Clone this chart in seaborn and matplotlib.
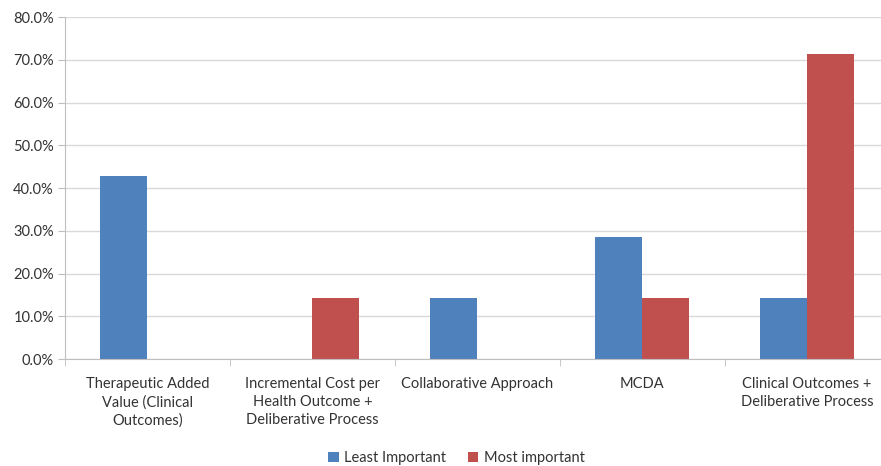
import pandas as pd
import matplotlib
matplotlib.use("Agg")
import matplotlib.pyplot as plt
import seaborn as sns
from matplotlib.ticker import PercentFormatter

# Data (percent of respondents)
categories = [
    "Therapeutic Added\nValue (Clinical\nOutcomes)",
    "Incremental Cost per\nHealth Outcome +\nDeliberative Process",
    "Collaborative Approach",
    "MCDA",
    "Clinical Outcomes +\nDeliberative Process",
]
least_important = [42.9, 0.0, 14.3, 28.6, 14.3]
most_important = [0.0, 14.3, 0.0, 14.3, 71.4]
series_names = ["Least Important", "Most important"]
colors = ["#4F81BD", "#C0504D"]

df = pd.DataFrame({
    "Category": categories * 2,
    "Value": least_important + most_important,
    "Series": [series_names[0]] * 5 + [series_names[1]] * 5,
})

sns.set_style("white")
plt.rcParams["font.family"] = ["Lato", "DejaVu Sans"]

fig = plt.figure(figsize=(8.81, 4.66), dpi=100)
ax = fig.add_axes([0.0738, 0.2296, 0.936, 0.7339])

sns.barplot(data=df, x="Category", y="Value", hue="Series", palette=colors,
            saturation=1, width=0.57, gap=0, linewidth=0, ax=ax)

ax.set_ylim(0, 80)
ax.set_xlim(-0.5, 4.5)
ax.set_yticks(range(0, 81, 10))
ax.yaxis.set_major_formatter(PercentFormatter(decimals=1))
ax.set_xticks([x + 0.5 for x in range(-1, 5)], minor=True)
ax.tick_params(axis="x", which="major", length=0, pad=13, labelsize=10.5, colors="#333333")
ax.tick_params(axis="x", which="minor", length=5, color="#BFBFBF", direction="out", bottom=True)
ax.tick_params(axis="y", length=5, color="#BFBFBF", direction="out", left=True,
               labelsize=10.5, colors="#333333", pad=3)
for lbl in ax.get_xticklabels():
    lbl.set_linespacing(1.35)
ax.set_xlabel("")
ax.set_ylabel("")
ax.grid(axis="y", color="#D9D9D9", linewidth=1)
ax.set_axisbelow(True)
for side in ["top", "right"]:
    ax.spines[side].set_visible(False)
for side in ["left", "bottom"]:
    ax.spines[side].set_color("#BFBFBF")

handles, labels = ax.get_legend_handles_labels()
ax.legend(handles, labels, loc="center", bbox_to_anchor=(0.475, -0.29),
          ncol=2, frameon=False, fontsize=10.5, handlelength=0.7, handleheight=0.7,
          columnspacing=1.5, handletextpad=0.4, labelcolor="#333333")

fig.savefig("out.png", dpi=100)
